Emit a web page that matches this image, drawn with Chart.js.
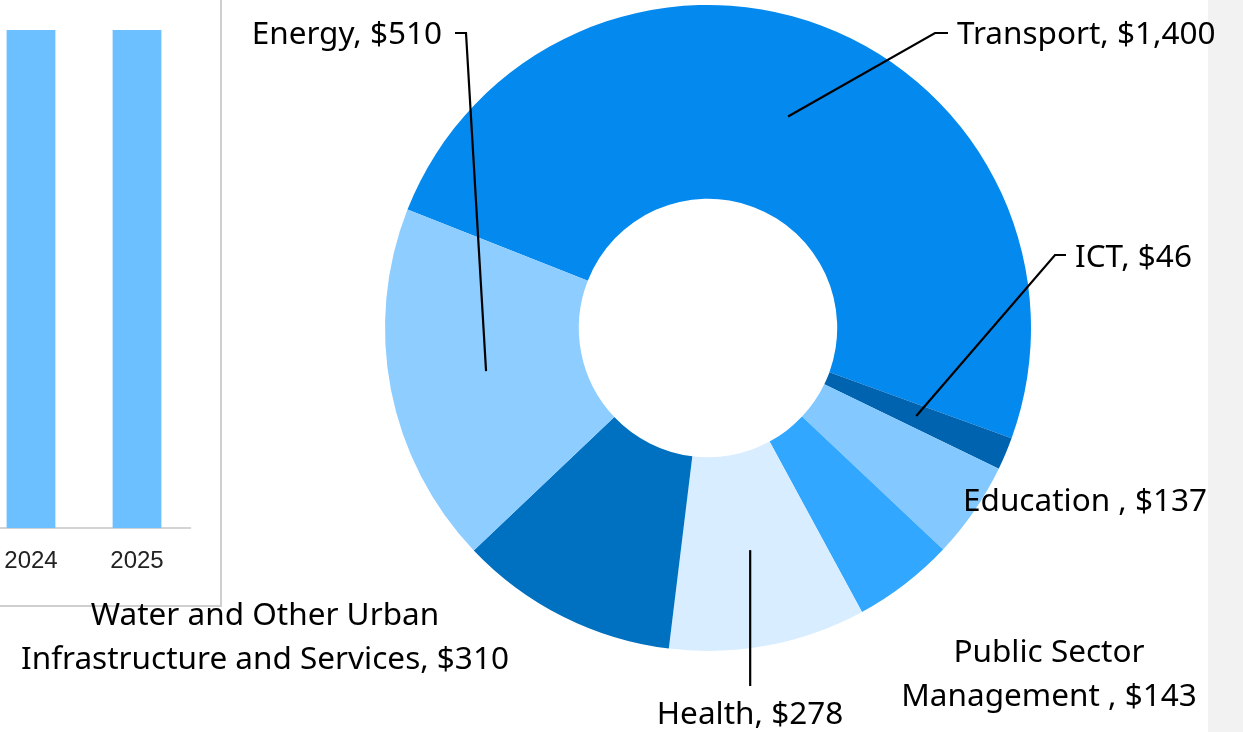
<!DOCTYPE html>
<html>
<head>
<meta charset="utf-8">
<script src="https://cdn.jsdelivr.net/npm/chart.js@4.4.1/dist/chart.umd.min.js"></script>
<style>
  html, body { margin: 0; padding: 0; background: #fff; overflow: hidden; }
  #page { position: relative; width: 1243px; height: 732px; }
  #barPanel { position: absolute; left: -10px; top: -10px; width: 232px; height: 617px;
              box-sizing: border-box; border: 2px solid #cfcfcf; background: #fff; }
  #barWrap { position: absolute; left: -22px; top: 0; width: 240px; height: 607px; }
  #pieWrap { position: absolute; left: 0; top: 0; width: 1243px; height: 732px; }
  #sideBand { position: absolute; left: 1208px; top: 0; width: 35px; height: 732px; background: #f2f2f2; }
</style>
</head>
<body>
<div id="page">
  <div id="barPanel"></div>
  <div id="barWrap"><canvas id="graficoBarras"></canvas></div>
  <div id="sideBand"></div>
  <div id="pieWrap"><canvas id="graficoRosca"></canvas></div>
</div>
<script>
// dados
const barYears = ["2024", "2025"];
const barValues = [2824, 2824];

const sectors = ["Transport", "ICT", "Education ", ["Public Sector", "Management "], "Health",
                 ["Water and Other Urban", "Infrastructure and Services"], "Energy"];
const amounts = [1400, 46, 137, 143, 278, 310, 510];
const sliceColors = ["#0489ee", "#0063b0", "#83c8ff", "#31a7ff", "#d8edff", "#0070c0", "#8dcdff"];

// posicao dos rotulos (x, linha de base) e pontos da linha guia
const labelLayout = [
    { x: 957, y: 44, align: "left", path: [[948, 33], [935, 33]] },
    { x: 1075, y: 267, align: "left", path: [[1066, 255], [1055, 255]] },
    { x: 963, y: 511, align: "left" },
    { x: 1049, y: 662, align: "center" },
    { x: 750, y: 724, align: "center", path: [[null, 686]] },
    { x: 265, y: 625, align: "center" },
    { x: 442, y: 44, align: "right", path: [[455, 33], [466, 33]] },
];

const rotulos = {
    id: "rotulos",
    afterDraw(chart) {
        const ctx = chart.ctx;
        const meta = chart.getDatasetMeta(0);
        ctx.save();
        ctx.font = "31.5px 'Noto Sans'";
        ctx.fillStyle = "#000";
        ctx.strokeStyle = "#000";
        ctx.lineWidth = 2.2;
        ctx.textBaseline = "alphabetic";
        labelLayout.forEach(function (lay, i) {
            const nome = sectors[i];
            const linhas = Array.isArray(nome) ? nome.slice() : [nome];
            linhas[linhas.length - 1] += ", $" + amounts[i].toLocaleString("en-US");
            ctx.textAlign = lay.align;
            linhas.forEach(function (t, k) {
                ctx.fillText(t, lay.x, lay.y + k * 44);
            });
            if (lay.path) {
                const p = meta.data[i].tooltipPosition();
                ctx.beginPath();
                lay.path.forEach(function (pt, k) {
                    const px = pt[0] === null ? p.x : pt[0];
                    if (k === 0) ctx.moveTo(px, pt[1]); else ctx.lineTo(px, pt[1]);
                });
                ctx.lineTo(p.x, p.y);
                ctx.stroke();
            }
        });
        ctx.restore();
    },
};

new Chart(document.getElementById("graficoRosca").getContext("2d"), {
    type: "doughnut",
    data: {
        labels: sectors.map(s => Array.isArray(s) ? s.join(" ") : s),
        datasets: [{
            data: amounts,
            backgroundColor: sliceColors,
            borderWidth: 0,
        }],
    },
    options: {
        responsive: true,
        maintainAspectRatio: false,
        animation: false,
        rotation: -68.5,
        cutout: "40%",
        layout: { padding: { left: 385, top: 5, right: 212, bottom: 81 } },
        plugins: {
            legend: { display: false },
            tooltip: { enabled: false },
        },
    },
    plugins: [rotulos],
});

new Chart(document.getElementById("graficoBarras").getContext("2d"), {
    type: "bar",
    data: {
        labels: barYears,
        datasets: [{
            data: barValues,
            backgroundColor: "#6cc0ff",
            barPercentage: 0.46,
            categoryPercentage: 1,
        }],
    },
    options: {
        responsive: true,
        maintainAspectRatio: false,
        animation: false,
        layout: { padding: { left: 0, top: 30, right: 28, bottom: 12 } },
        scales: {
            x: {
                grid: { display: false, drawTicks: false },
                border: { color: "#d4d4d4", width: 2 },
                ticks: { color: "#222", padding: 19, font: { family: "'Liberation Sans'", size: 24 } },
            },
            y: { display: false, min: 0, max: Math.max(...barValues) },
        },
        plugins: {
            legend: { display: false },
            tooltip: { enabled: false },
        },
    },
});
</script>
</body>
</html>
